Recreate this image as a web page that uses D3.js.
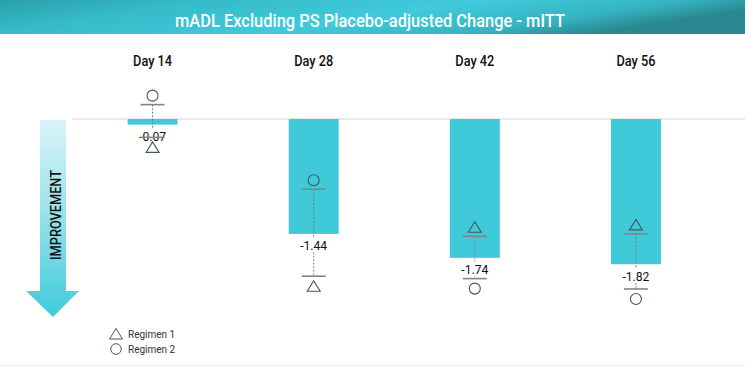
<!DOCTYPE html>
<html><head><meta charset="utf-8">
<script src="https://cdn.jsdelivr.net/npm/d3@7"></script>
<style>html,body{margin:0;padding:0;background:#fff;}svg{display:block;font-family:Roboto,"Noto Sans",sans-serif;}</style>
</head><body>
<svg id="c" width="745" height="367"></svg>
<script>
const days = ["Day 14", "Day 28", "Day 42", "Day 56"];
const adjustedChange = [-0.07, -1.44, -1.74, -1.82];
const regimen1 = [-0.23, -1.97, -1.47, -1.44];
const regimen2 = [0.18, -0.88, -2.00, -2.13];
const valueLabels = ["-0.07", "-1.44", "-1.74", "-1.82"];
const legendLabels = ["Regimen 1", "Regimen 2"];

const svg = d3.select("#c");
const defs = svg.append("defs");
const tg = defs.append("linearGradient").attr("id","tg").attr("x1","0").attr("x2","1").attr("y1","0").attr("y2","0.3");
[["0%","#2a9fab"],["25%","#36bac8"],["60%","#40cadb"],["85%","#35b3c1"],["100%","#2a8891"]].forEach(s=>tg.append("stop").attr("offset",s[0]).attr("stop-color",s[1]));
const ag = defs.append("linearGradient").attr("id","ag").attr("x1","0").attr("x2","0").attr("y1","0").attr("y2","1");
[["0%","#d8f4f8"],["45%","#9fe2ea"],["100%","#3ecbdb"]].forEach(s=>ag.append("stop").attr("offset",s[0]).attr("stop-color",s[1]));

// title banner
svg.append("rect").attr("x",0).attr("y",0).attr("width",745).attr("height",34).attr("fill","url(#tg)");
svg.append("text").attr("x",370).attr("y",26.5).attr("text-anchor","middle").attr("fill","#fff")
  .attr("font-size",18.5).attr("font-weight",500).attr("textLength",390).attr("lengthAdjust","spacingAndGlyphs")
  .text("mADL Excluding PS Placebo-adjusted Change - mITT");

const x = d3.scaleBand().domain(days).range([72, 716.5]).paddingInner(0.69).paddingOuter(0.345);
const y = d3.scaleLinear().domain([0, -2.2]).range([119, 119 + 2.2 * 79.8]);

// zero gridline
svg.append("line").attr("x1",72).attr("x2",745).attr("y1",y(0)).attr("y2",y(0)).attr("stroke","#d4d4d4").attr("stroke-width",1);

// day labels
svg.selectAll(".day").data(days).join("text").attr("class","day")
  .attr("x",d=>x(d)+x.bandwidth()/2).attr("y",65.5).attr("text-anchor","middle")
  .attr("font-size",15).attr("font-weight",500).attr("fill","#111")
  .attr("textLength",39).attr("lengthAdjust","spacingAndGlyphs").text(d=>d);

// bars
svg.selectAll(".bar").data(days).join("rect").attr("class","bar")
  .attr("x",d=>x(d)).attr("width",x.bandwidth())
  .attr("y",y(0)).attr("height",(d,i)=>y(adjustedChange[i])-y(0)).attr("fill","#3fc9d9");

const cx = i => x(days[i]) + x.bandwidth()/2;
const idx = d3.range(days.length);

// whiskers
svg.selectAll(".wh").data(idx).join("line").attr("class","wh")
  .attr("x1",cx).attr("x2",cx)
  .attr("y1",i=>y(Math.max(regimen1[i],regimen2[i]))).attr("y2",i=>y(Math.min(regimen1[i],regimen2[i])))
  .attr("stroke","#7a8288").attr("stroke-width",1).attr("stroke-dasharray","2,1.5");

// value labels with white backing
const lab = svg.selectAll(".vl").data(idx).join("g").attr("class","vl");
lab.append("rect").attr("x",i=>cx(i)-15).attr("y",i=>y(adjustedChange[i])+4).attr("width",30).attr("height",14).attr("fill","#fff");
lab.append("text").attr("x",cx).attr("y",i=>y(adjustedChange[i])+16.5).attr("text-anchor","middle")
  .attr("font-size",13.5).attr("fill","#111").attr("textLength",27).attr("lengthAdjust","spacingAndGlyphs").text(i=>valueLabels[i]);

// caps
const caps = [];
idx.forEach(i=>{caps.push({i,v:regimen1[i]});caps.push({i,v:regimen2[i]});});
svg.selectAll(".cap").data(caps).join("line").attr("class","cap")
  .attr("x1",d=>cx(d.i)-12).attr("x2",d=>cx(d.i)+12).attr("y1",d=>y(d.v)).attr("y2",d=>y(d.v))
  .attr("stroke","#7d8589").attr("stroke-width",1.6);

// markers
const tri = (px,py)=>`M${px},${py-5.5}L${px+6.5},${py+5}L${px-6.5},${py+5}Z`;
const off = (i,v,other)=> v >= other ? -9 : 10;
svg.selectAll(".m1").data(idx).join("path").attr("class","m1")
  .attr("d",i=>tri(cx(i), y(regimen1[i]) + off(i,regimen1[i],regimen2[i])))
  .attr("fill","none").attr("stroke","#44565e").attr("stroke-width",1.1);
svg.selectAll(".m2").data(idx).join("circle").attr("class","m2")
  .attr("cx",cx).attr("cy",i=>y(regimen2[i]) + off(i,regimen2[i],regimen1[i]))
  .attr("r",5.5).attr("fill","none").attr("stroke","#44565e").attr("stroke-width",1.1);

// improvement arrow
svg.append("path").attr("d","M40,120L66,120L66,291L79,291L53,317L26,291L40,291Z").attr("fill","url(#ag)");
svg.append("text").attr("transform","translate(60.5,215) rotate(-90)").attr("text-anchor","middle")
  .attr("font-size",15).attr("font-weight",500).attr("fill","#111").attr("textLength",90).attr("lengthAdjust","spacingAndGlyphs").text("IMPROVEMENT");

// legend
const lg = svg.append("g");
lg.append("path").attr("d",tri(116,334)).attr("fill","none").attr("stroke","#44565e").attr("stroke-width",1);
lg.append("circle").attr("cx",116).attr("cy",349).attr("r",5.3).attr("fill","none").attr("stroke","#44565e").attr("stroke-width",1);
lg.selectAll("text").data(legendLabels).join("text").attr("x",128).attr("y",(d,i)=>337.5+i*15.5)
  .attr("font-size",10).attr("fill","#333").text(d=>d);

// bottom border
svg.append("line").attr("x1",0).attr("x2",745).attr("y1",365.5).attr("y2",365.5).attr("stroke","#ececec");
</script>
</body></html>
